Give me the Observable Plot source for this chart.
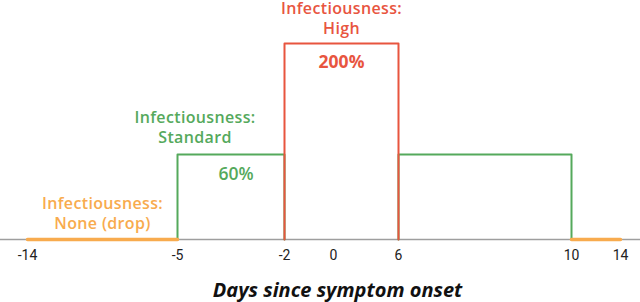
<!DOCTYPE html>
<html>
<head>
<meta charset="utf-8">
<script src="https://cdn.jsdelivr.net/npm/d3@7"></script>
<script src="https://cdn.jsdelivr.net/npm/@observablehq/plot@0.6"></script>
<style>
  html, body { margin: 0; padding: 0; background: #fff; }
  svg { display: block; }
  .lvl text { letter-spacing: 0.35px; }
</style>
</head>
<body>
<div id="chart"></div>
<script>
// ---- data ----
const days = [-14, -5, -2, 0, 6, 10, 14];          // tick labels (days since symptom onset)
const periodStart = [-14, -5, -2, 6, 10];
const periodEnd   = [-5, -2, 6, 10, 14];
const periodLevel = ["None (drop)", "Standard", "High", "Standard", "None (drop)"];
const levels = ["None (drop)", "Standard", "High"];
const levelValues = [0, 60, 200];                   // infectiousness %
const levelColors = ["#f8ab4e", "#55a95c", "#e8553f"];

const valueOf = l => levelValues[levels.indexOf(l)];
const colorOf = l => levelColors[levels.indexOf(l)];

const xOpts = {type: "linear", domain: days, range: [27, 177, 284, 333, 398, 571, 620]};
const yOpts = {type: "linear", domain: levelValues, range: [239, 154, 43], axis: null};
const xs = Plot.scale({x: {type: "linear", domain: days, range: xOpts.range}});

// build step outlines for each period
const periods = periodStart.map((s, i) => ({id: i, start: s, end: periodEnd[i], level: periodLevel[i], value: valueOf(periodLevel[i])}));
const outline = [];
for (const p of periods) {
  if (p.value === 0) {
    outline.push({id: p.id, level: p.level, x: p.start, y: 0}, {id: p.id, level: p.level, x: p.end, y: 0});
  } else {
    outline.push({id: p.id, level: p.level, x: p.start, y: 0},
                 {id: p.id, level: p.level, x: p.start, y: p.value},
                 {id: p.id, level: p.level, x: p.end, y: p.value},
                 {id: p.id, level: p.level, x: p.end, y: 0});
  }
}
const order = l => levels.indexOf(l);
outline.sort((a, b) => order(a.level) - order(b.level) || a.id - b.id);

// label anchors: midpoint of the first period of each level (in screen space)
const mid = p => xs.invert((xs.apply(p.start) + xs.apply(p.end)) / 2);
const labelFor = l => periods.find(p => p.level === l);
const labels = levels.map(l => ({level: l, x: mid(labelFor(l)), y: valueOf(l), title: `Infectiousness:\n${l}`}));
const pick = l => labels.filter(d => d.level === l);

const font = "'Open Sans', Roboto, sans-serif";
const titleStyle = {x: "x", y: "y", text: "title", lineAnchor: "bottom", fontSize: 16, fontWeight: 600, lineHeight: 1.25, className: "lvl"};

const chart = Plot.plot({
  width: 640,
  height: 302,
  marginTop: 43,
  marginBottom: 63,
  marginLeft: 0,
  marginRight: 0,
  x: xOpts,
  y: yOpts,
  style: {fontFamily: font, background: "#fff", overflow: "visible"},
  marks: [
    Plot.ruleY([0], {stroke: "#9e9e9e", strokeWidth: 1.5}),
    Plot.line(outline.filter(d => valueOf(d.level) > 0), {x: "x", y: "y", z: "id", stroke: d => colorOf(d.level), strokeWidth: 2}),
    Plot.line(outline.filter(d => valueOf(d.level) === 0), {x: "x", y: "y", z: "id", stroke: d => colorOf(d.level), strokeWidth: 3.5}),
    Plot.axisX({ticks: days, tickSize: 0, tickPadding: 11, tickFormat: d => `${d}`, fontSize: 14, fill: "#222", label: null, fontFamily: "Roboto, sans-serif"}),
    // level titles
    Plot.text(pick("High"), {...titleStyle, fill: colorOf("High"), dy: -10}),
    Plot.text(pick("Standard"), {...titleStyle, fill: colorOf("Standard"), dy: -12, dx: -36}),
    Plot.text(pick("None (drop)"), {...titleStyle, fill: colorOf("None (drop)"), dy: -11}),
    // percentage values
    Plot.text(pick("High"), {x: "x", y: "y", text: d => `${d.y}%`, fill: colorOf("High"), lineAnchor: "bottom", dy: 24, fontSize: 17.5, fontWeight: 700}),
    Plot.text(pick("Standard"), {x: "x", y: "y", text: d => `${d.y}%`, fill: colorOf("Standard"), lineAnchor: "bottom", dy: 25, dx: 5, fontSize: 17.5, fontWeight: 600}),
    // axis title
    Plot.text(["Days since symptom onset"], {x: 0, y: 0, text: d => d, dy: 57, dx: 4, lineAnchor: "bottom", fontSize: 20, fontWeight: 700, fontStyle: "italic", fill: "#111"})
  ]
});
document.getElementById("chart").appendChild(chart);
</script>
</body>
</html>
